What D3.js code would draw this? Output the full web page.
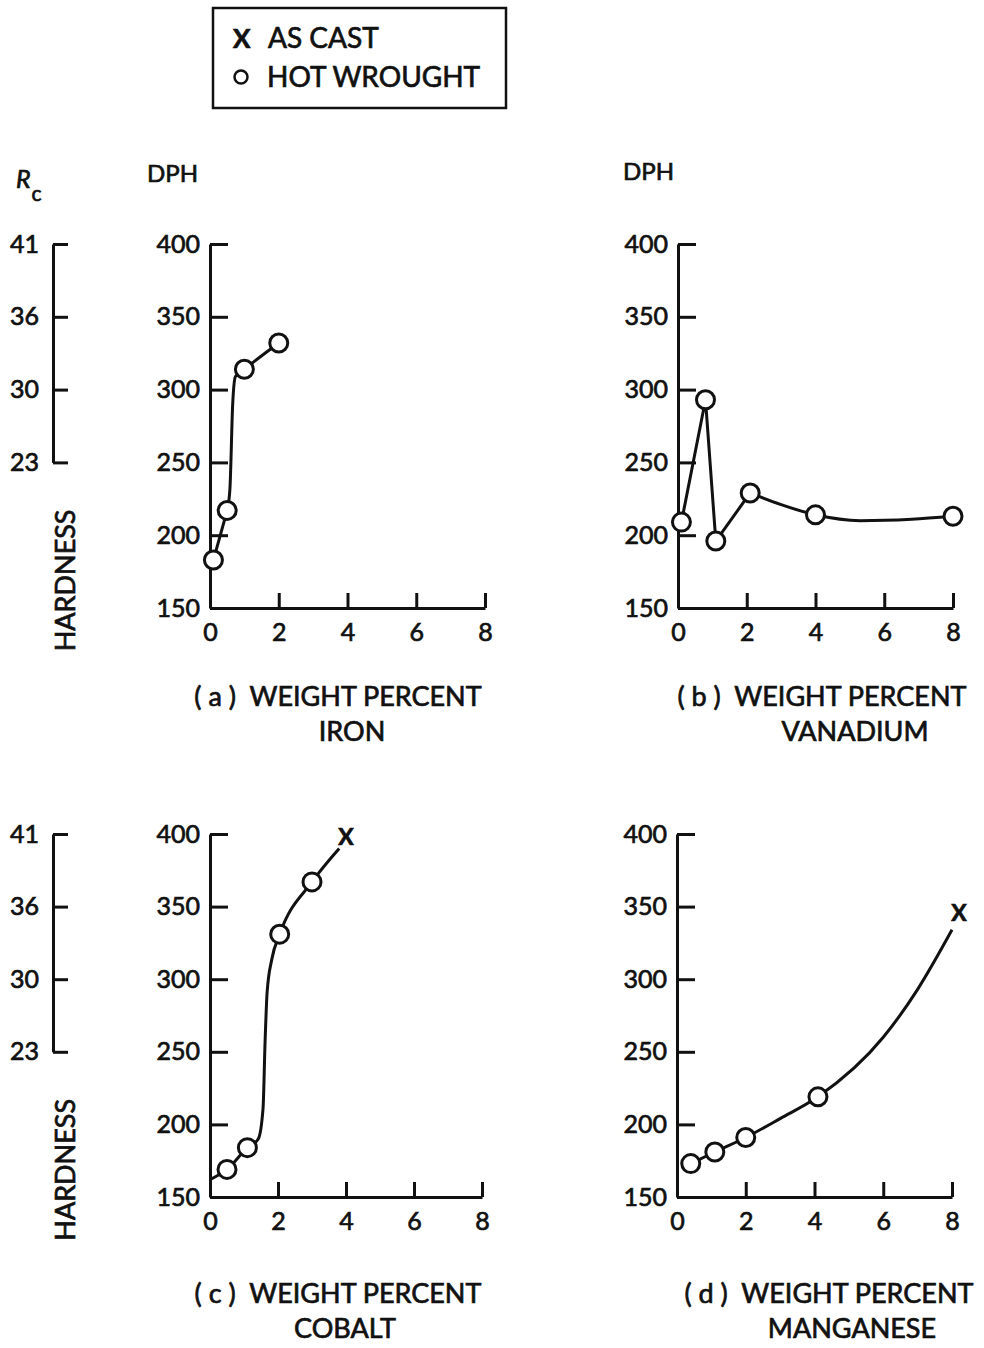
<!DOCTYPE html>
<html>
<head>
<meta charset="utf-8">
<script src="https://cdn.jsdelivr.net/npm/d3@7"></script>
<style>
  body { margin: 0; background: #fff; }
  text { font-family: Lato, "Open Sans", sans-serif; fill: #111; stroke: #111; stroke-width: 0.7px; }
</style>
</head>
<body>
<div id="chart"></div>
<script>
// values
var xTicks = [0, 2, 4, 6, 8];
var dphTicks = [400, 350, 300, 250, 200, 150];
var rcTicks = [41, 36, 30, 23];
var rcAtDph = [400, 350, 300, 250];

// (a) iron
var ironHotX = [0.1, 0.5, 1.0, 2.0];
var ironHotY = [183, 217, 314, 332];
var ironLineX = [0.1, 0.5, 0.58, 0.66, 0.74, 1.0, 2.0];
var ironLineY = [183, 217, 232, 290, 309, 314, 332];

// (b) vanadium
var vanHotX = [0.1, 0.8, 1.1, 2.1, 4, 8];
var vanHotY = [209, 293, 196, 229, 214, 213];
var vanLineX = [0.1, 0.8, 1.1, 2.1, 3, 4, 5.3, 6.8, 8];
var vanLineY = [209, 293, 196, 229, 221, 214, 210, 211, 213];

// (c) cobalt
var coHotX = [0.5, 1.1, 2.05, 3];
var coHotY = [169, 184, 331, 367];
var coCastX = [4];
var coCastY = [398];
var coLineX = [0, 0.5, 1.1, 1.42, 1.56, 1.62, 1.68, 1.82, 2.05, 3, 3.8];
var coLineY = [162, 169, 184, 190, 211, 257, 291, 314, 331, 367, 390];

// (d) manganese
var mnHotX = [0.4, 1.1, 2.0, 4.1];
var mnHotY = [173, 181, 191, 219];
var mnCastX = [8.2];
var mnCastY = [346];
var mnLineX = [0.4, 1.1, 2.0, 3, 4.1, 6, 7, 8.0];
var mnLineY = [173, 181, 191, 204, 219, 260, 293, 334];

var zip = function(xs, ys) { return xs.map(function(x, i) { return [x, ys[i]]; }); };

var panels = [
  { x0: 210, x1: 485, yTop: 244, yBot: 608, hot: zip(ironHotX, ironHotY), cast: [],
    line: zip(ironLineX, ironLineY), straight: 2,
    cap: ["( a )  WEIGHT PERCENT", "IRON"], capX: [338, 352], capY: [706, 741], dph: [147, 182] },
  { x0: 678, x1: 953, yTop: 244, yBot: 608, hot: zip(vanHotX, vanHotY), cast: [],
    line: zip(vanLineX, vanLineY), straight: 4,
    cap: ["( b )  WEIGHT PERCENT", "VANADIUM"], capX: [822, 855], capY: [706, 741], dph: [623, 180] },
  { x0: 210, x1: 482, yTop: 834, yBot: 1197, hot: zip(coHotX, coHotY), cast: zip(coCastX, coCastY),
    line: zip(coLineX, coLineY), straight: 0,
    cap: ["( c )  WEIGHT PERCENT", "COBALT"], capX: [338, 345], capY: [1303, 1338] },
  { x0: 677, x1: 952, yTop: 834, yBot: 1197, hot: zip(mnHotX, mnHotY), cast: zip(mnCastX, mnCastY),
    line: zip(mnLineX, mnLineY), straight: 0,
    cap: ["( d )  WEIGHT PERCENT", "MANGANESE"], capX: [829, 852], capY: [1303, 1338] }
];

var svg = d3.select("#chart")
  .append("svg")
    .attr("width", 984)
    .attr("height", 1348)
    .style("background", "#fff");

// legend
var leg = svg.append("g");
leg.append("rect")
  .attr("x", 213).attr("y", 8).attr("width", 293).attr("height", 100)
  .attr("fill", "none").attr("stroke", "#111").attr("stroke-width", 2.5);
leg.append("text").attr("x", 233).attr("y", 48).attr("font-size", 26).attr("font-weight", 700).text("X");
leg.append("text").attr("x", 268).attr("y", 48).attr("font-size", 28).text("AS CAST");
leg.append("circle").attr("cx", 241).attr("cy", 77).attr("r", 6.5)
  .attr("fill", "none").attr("stroke", "#111").attr("stroke-width", 2.5);
leg.append("text").attr("x", 267).attr("y", 87).attr("font-size", 28).text("HOT WROUGHT");

panels.forEach(function(p, i) {
  var x = d3.scaleLinear().domain([0, 8]).range([p.x0, p.x1]);
  var y = d3.scaleLinear().domain([150, 400]).range([p.yBot, p.yTop]);
  var g = svg.append("g");

  var yAxis = d3.axisLeft(y).tickValues(dphTicks).tickSizeInner(-18).tickSizeOuter(0).tickPadding(10);
  var xAxis = d3.axisBottom(x).tickValues(xTicks).tickSizeInner(-15).tickSizeOuter(0).tickPadding(15);

  var ya = g.append("g").attr("transform", "translate(" + p.x0 + ",0)").call(yAxis);
  var xa = g.append("g").attr("transform", "translate(0," + p.yBot + ")").call(xAxis);
  [ya, xa].forEach(function(a) {
    a.select(".domain").attr("stroke", "#111").attr("stroke-width", 3);
    a.selectAll(".tick line").attr("stroke", "#111").attr("stroke-width", 3);
    a.selectAll(".tick text").attr("font-size", 25).attr("font-family", "Lato, sans-serif").attr("fill", "#111");
  });

  // fitted curve
  var pre = p.line.slice(0, p.straight);
  var rest = p.line.slice(Math.max(p.straight - 1, 0));
  var lin = d3.line().x(function(d) { return x(d[0]); }).y(function(d) { return y(d[1]); });
  if (pre.length > 1) {
    g.append("path").attr("d", lin.curve(d3.curveLinear)(pre))
      .attr("fill", "none").attr("stroke", "#111").attr("stroke-width", 3);
  }
  g.append("path").attr("d", lin.curve(d3.curveMonotoneX)(rest))
    .attr("fill", "none").attr("stroke", "#111").attr("stroke-width", 3);

  g.selectAll(".hot").data(p.hot).enter().append("circle")
    .attr("cx", function(d) { return x(d[0]); })
    .attr("cy", function(d) { return y(d[1]); })
    .attr("r", 9)
    .attr("fill", "#fff").attr("stroke", "#111").attr("stroke-width", 3);

  g.selectAll(".cast").data(p.cast).enter().append("text")
    .attr("x", function(d) { return x(d[0]); })
    .attr("y", function(d) { return y(d[1]); })
    .attr("dy", "0.36em")
    .attr("text-anchor", "middle")
    .attr("font-size", 23).attr("font-weight", 700)
    .text("X");

  p.cap.forEach(function(t, k) {
    g.append("text").attr("x", p.capX[k]).attr("y", p.capY[k])
      .attr("text-anchor", "middle").attr("font-size", 27)
      .style("white-space", "pre").text(t);
  });

  if (p.dph) {
    g.append("text").attr("x", p.dph[0]).attr("y", p.dph[1]).attr("font-size", 24).text("DPH");
  }

  // Rockwell C scale on the left column
  if (i % 2 === 0) {
    var yr = d3.scaleLinear().domain([250, 400]).range([y(250), y(400)]);
    var rcAxis = d3.axisLeft(yr).tickValues(rcAtDph).tickSizeInner(-15).tickSizeOuter(0).tickPadding(14)
      .tickFormat(function(d) { return rcTicks[rcAtDph.indexOf(d)]; });
    var ra = g.append("g").attr("transform", "translate(53,0)").call(rcAxis);
    ra.select(".domain").attr("stroke", "#111").attr("stroke-width", 3);
    ra.selectAll(".tick line").attr("stroke", "#111").attr("stroke-width", 3);
    ra.selectAll(".tick text").attr("font-size", 25).attr("font-family", "Lato, sans-serif").attr("fill", "#111");

    g.append("text")
      .attr("transform", "translate(75," + (y(250) + 118) + ") rotate(-90)")
      .attr("text-anchor", "middle").attr("font-size", 27)
      .text("HARDNESS");
  }
});

// Rc heading
var rc = svg.append("text").attr("x", 16).attr("y", 188).attr("font-size", 25).attr("font-style", "italic");
rc.append("tspan").text("R");
rc.append("tspan").attr("dx", 1).attr("dy", 13).attr("font-size", 21).attr("font-style", "normal").text("c");
</script>
</body>
</html>
